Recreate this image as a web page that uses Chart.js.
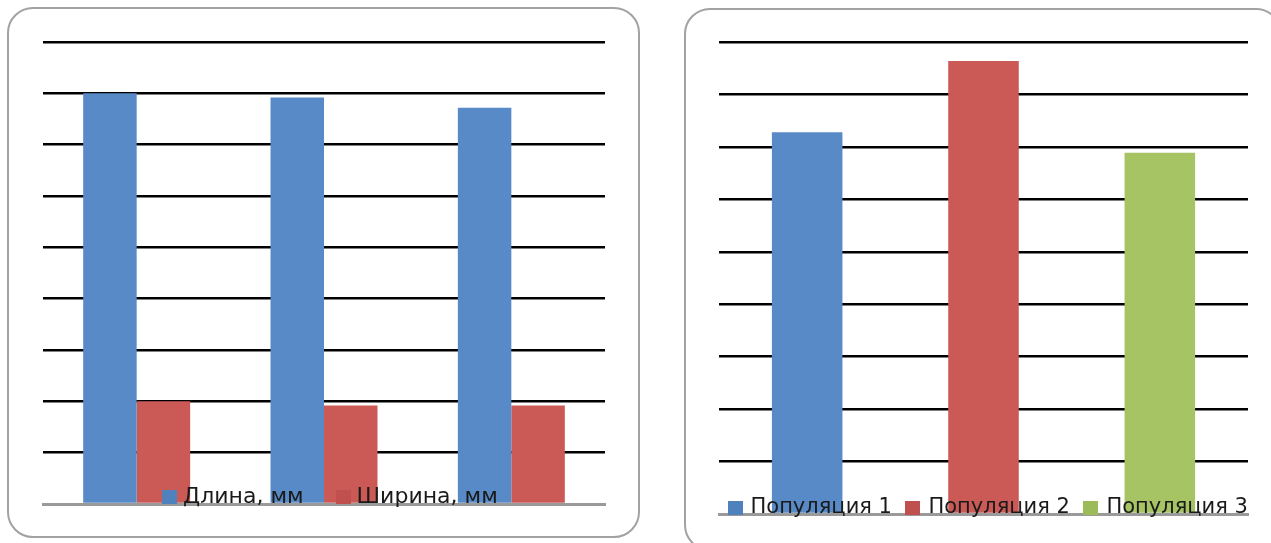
<!DOCTYPE html>
<html>
<head>
<meta charset="utf-8">
<script src="https://cdn.jsdelivr.net/npm/chart.js@4.4.1/dist/chart.umd.min.js"></script>
<style>
  html, body { margin: 0; padding: 0; background: #fff; width: 1271px; height: 543px; overflow: hidden; position: relative; }
  .frame { position: absolute; border: 2px solid #a2a2a2; border-radius: 26px; box-sizing: border-box; background: #fff; }
  canvas { position: absolute; }
</style>
</head>
<body>
<div class="frame" style="left:7px; top:7px; width:633px; height:531px;"></div>
<div class="frame" style="left:684px; top:8px; width:598px; height:543px;"></div>
<canvas id="c1" style="left:0; top:0;"></canvas>
<canvas id="c2" style="left:680px; top:0;"></canvas>
<script>
// ---- data ----
const categories = ['Популяция 1', 'Популяция 2', 'Популяция 3'];
const lengthLabel = 'Длина, мм';
const widthLabel = 'Ширина, мм';
const lengthValues = [8.0, 7.92, 7.72];
const widthValues = [2.0, 1.92, 1.92];
const populationValues = [7.28, 8.64, 6.89];
const yTicks = [0, 1, 2, 3, 4, 5, 6, 7, 8, 9];

// ---- styles ----
const BAR_COLORS = ['#588AC7', '#CB5A57', '#A6C464'];
const KEY_COLORS = ['#4F81BD', '#C0504D', '#9BBB59'];
const FONT = "'DejaVu Sans', 'Liberation Sans', sans-serif";
const TEXT = '#1a1a1a';

function swatch(color) {
  const c = document.createElement('canvas');
  c.width = 15; c.height = 14;
  const x = c.getContext('2d');
  x.fillStyle = color; x.fillRect(0, 0, 15, 14);
  return c;
}

// legend drawn inside the plot area, above the bars
const legendInside = {
  id: 'legendInside',
  beforeLayout(chart) {
    const lg = chart.legend;
    if (lg) lg._layers = () => [{ z: 1, draw: (area) => lg.draw(area) }];
  },
  beforeDraw(chart, args, opts) {
    const lg = chart.legend;
    if (!lg) return;
    const h = lg.bottom - lg.top;
    lg.top = chart.chartArea.bottom - h + opts.dy;
    lg.bottom = lg.top + h;
    lg.left += opts.dx; lg.right += opts.dx;
  }
};

function yScale(leftWidth) {
  return {
    position: 'left',
    min: yTicks[0], max: yTicks[yTicks.length - 1],
    afterBuildTicks(s) { s.ticks = yTicks.map(v => ({ value: v })); },
    afterFit(s) { s.width = leftWidth; },
    ticks: { display: false },
    border: { display: false },
    grid: {
      drawTicks: false,
      lineWidth: 2.5,
      color: (c) => (c.tick && c.tick.value === 0) ? 'rgba(0,0,0,0)' : '#000'
    }
  };
}
function spacerScale(rightWidth) {
  return {
    position: 'right', display: true,
    afterFit(s) { s.width = rightWidth; },
    ticks: { display: false },
    border: { display: false },
    grid: { display: false, drawTicks: false }
  };
}
function xScale() {
  return {
    ticks: { display: false },
    grid: { display: false, drawTicks: false },
    border: { display: true, color: '#9a9a9a', width: 3 }
  };
}

function makeChart(id, cfg) {
  const cv = document.getElementById(id);
  cv.width = cfg.width;
  // canvas height so that the plot bottom lands on cfg.baseline (legend reserves fs + pad + 10)
  cv.height = cfg.baseline + cfg.fontSize + cfg.pad + 10;
  return new Chart(cv, {
    type: 'bar',
    data: { labels: categories, datasets: cfg.datasets },
    options: {
      responsive: false, animation: false,
      categoryPercentage: cfg.catPct, barPercentage: 1,
      layout: { padding: { left: 0, right: 0, top: cfg.top, bottom: 0 } },
      scales: { x: xScale(), y: yScale(cfg.left), y2: spacerScale(cfg.right) },
      plugins: {
        tooltip: { enabled: false },
        legendInside: { dx: cfg.dx, dy: cfg.dy },
        legend: {
          position: 'bottom', align: 'start',
          labels: {
            font: { family: FONT, size: cfg.fontSize }, color: TEXT,
            usePointStyle: true, pointStyleWidth: cfg.keyGap, boxHeight: 14,
            padding: cfg.pad,
            generateLabels: cfg.keys
          }
        }
      }
    },
    plugins: [legendInside]
  });
}

makeChart('c1', {
  width: 640, baseline: 504, top: 42, left: 43, right: 35,
  fontSize: 22, pad: 37, keyGap: 5, dx: 130, dy: 14, catPct: 0.571,
  datasets: [
    { label: lengthLabel, data: lengthValues, backgroundColor: BAR_COLORS[0], borderWidth: 0 },
    { label: widthLabel, data: widthValues, backgroundColor: BAR_COLORS[1], borderWidth: 0 }
  ],
  keys: (chart) => chart.data.datasets.map((ds, i) => ({
    text: ds.label, fillStyle: KEY_COLORS[i], strokeStyle: KEY_COLORS[i], lineWidth: 0,
    pointStyle: swatch(KEY_COLORS[i]), hidden: false, datasetIndex: i, fontColor: TEXT
  }))
});

makeChart('c2', {
  width: 591, baseline: 514, top: 42, left: 39, right: 23,
  fontSize: 21, pad: 16, keyGap: 10, dx: 34, dy: 14.5, catPct: 0.4,
  datasets: [
    { label: 'Популяции', data: populationValues, backgroundColor: BAR_COLORS, borderWidth: 0 }
  ],
  keys: (chart) => chart.data.labels.map((t, i) => ({
    text: t, fillStyle: KEY_COLORS[i], strokeStyle: KEY_COLORS[i], lineWidth: 0,
    pointStyle: swatch(KEY_COLORS[i]), hidden: false, index: i, datasetIndex: 0, fontColor: TEXT
  }))
});
</script>
</body>
</html>
